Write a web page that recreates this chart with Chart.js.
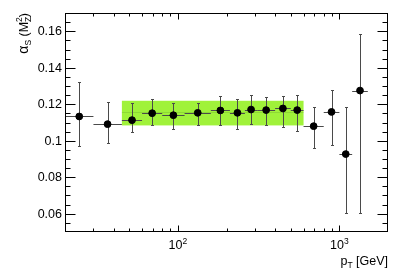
<!DOCTYPE html>
<html>
  <head>
    <title>alpha_s vs pT</title>
    <script src="https://cdn.jsdelivr.net/npm/chart.js"></script>
    <style>
      body {
        margin: 0;
        background-color: #ffffff;
      }
      #wrap {
        width: 409px;
        height: 277px;
      }
    </style>
  </head>
  <body>
    <div id="wrap">
      <canvas id="chart" width="409" height="277"></canvas>
    </div>

    <script>
      // bins in pT [GeV]
      const binLow = [20, 30, 45, 60, 80, 110, 160, 210, 260, 310, 400, 500, 600, 800, 1000, 1200];
      const binHigh = [30, 45, 60, 80, 110, 160, 210, 260, 310, 400, 500, 600, 800, 1000, 1200, 1500];
      const binCenter = [24.5, 36.7, 52, 69.3, 93.8, 132.7, 183.3, 233.7, 283.9, 352, 447, 548, 693, 894, 1095, 1342];

      // alpha_s(M_Z^2) and total uncertainty (upper / lower values)
      const alphaS = [0.1133, 0.1091, 0.1113, 0.1151, 0.114, 0.1153, 0.1166, 0.1153, 0.1171, 0.1168, 0.1177, 0.1168, 0.108, 0.1158, 0.0927, 0.1275];
      const alphaUp = [0.1321, 0.1215, 0.1206, 0.123, 0.1206, 0.1209, 0.1246, 0.1228, 0.1251, 0.1239, 0.1246, 0.1251, 0.1184, 0.1277, 0.1184, 0.1585];
      const alphaDown = [0.0972, 0.0989, 0.1049, 0.1086, 0.1067, 0.1086, 0.1089, 0.1062, 0.1094, 0.1084, 0.1073, 0.1056, 0.096, 0.0974, 0.0604, 0.0602];

      // combined fit band
      const bandRange = [45, 600];
      const bandValue = 0.1157;
      const bandLow = 0.1084;
      const bandHigh = 0.1219;

      // axes
      const yTicks = [0.06, 0.08, 0.1, 0.12, 0.14, 0.16];
      const yTickLabels = ["0.06", "0.08", "0.1", "0.12", "0.14", "0.16"];
      const yMinorTicks = [0.055, 0.065, 0.07, 0.075, 0.085, 0.09, 0.095, 0.105, 0.11, 0.115, 0.125, 0.13, 0.135, 0.145, 0.15, 0.155, 0.165];
      const xTicks = [100, 1000];
      const xTickBase = ["10", "10"];
      const xTickExp = ["2", "3"];
      const xMinorTicks = [20, 30, 40, 50, 60, 70, 80, 90, 200, 300, 400, 500, 600, 700, 800, 900, 2000];

      const FONT = "'Liberation Sans', Arial, sans-serif";

      const points = binCenter.map((x, i) => ({ x: x, y: alphaS[i] }));

      const rootStyle = {
        id: "rootStyle",
        beforeDatasetsDraw(chart) {
          const ctx = chart.ctx;
          const xs = chart.scales.x;
          const ys = chart.scales.y;

          // green band
          const bx0 = xs.getPixelForValue(bandRange[0]);
          const bx1 = xs.getPixelForValue(bandRange[1]);
          const by0 = ys.getPixelForValue(bandHigh);
          const by1 = ys.getPixelForValue(bandLow);
          ctx.save();
          ctx.fillStyle = "#a0f23a";
          ctx.fillRect(bx0, by0, bx1 - bx0, by1 - by0);
          const bc = Math.round(ys.getPixelForValue(bandValue)) + 0.5;
          ctx.strokeStyle = "rgba(110,170,50,0.35)";
          ctx.lineWidth = 1;
          ctx.beginPath();
          ctx.moveTo(bx0, bc);
          ctx.lineTo(bx1, bc);
          ctx.stroke();

          // error bars
          ctx.strokeStyle = "#4a4a4a";
          ctx.lineWidth = 1;
          for (let i = 0; i < binCenter.length; i++) {
            const px = Math.round(xs.getPixelForValue(binCenter[i])) + 0.5;
            const py = Math.round(ys.getPixelForValue(alphaS[i])) + 0.5;
            const x0 = Math.max(xs.getPixelForValue(binLow[i]), chart.chartArea.left);
            const x1 = xs.getPixelForValue(binHigh[i]);
            const yUp = Math.round(ys.getPixelForValue(alphaUp[i])) + 0.5;
            const yDn = Math.round(ys.getPixelForValue(alphaDown[i])) + 0.5;
            ctx.beginPath();
            ctx.moveTo(x0, py);
            ctx.lineTo(x1, py);
            ctx.moveTo(px, yUp);
            ctx.lineTo(px, yDn);
            // little caps
            ctx.moveTo(px - 1.5, yUp);
            ctx.lineTo(px + 1.5, yUp);
            ctx.moveTo(px - 1.5, yDn);
            ctx.lineTo(px + 1.5, yDn);
            ctx.stroke();
          }
          ctx.restore();
        },
        afterDraw(chart) {
          const ctx = chart.ctx;
          const xs = chart.scales.x;
          const ys = chart.scales.y;
          const a = chart.chartArea;
          const L = Math.round(a.left) + 0.5;
          const R = Math.round(a.right) - 0.5;
          const T = Math.round(a.top) + 0.5;
          const B = Math.round(a.bottom) - 0.5;

          ctx.save();
          ctx.strokeStyle = "#000000";
          ctx.lineWidth = 1;
          ctx.strokeRect(L, T, R - L, B - T);

          ctx.beginPath();
          // y ticks, left and right
          yTicks.forEach((v) => {
            const y = Math.round(ys.getPixelForValue(v)) + 0.5;
            ctx.moveTo(L, y);
            ctx.lineTo(L + 10, y);
            ctx.moveTo(R, y);
            ctx.lineTo(R - 10, y);
          });
          yMinorTicks.forEach((v) => {
            const y = Math.round(ys.getPixelForValue(v)) + 0.5;
            ctx.moveTo(L, y);
            ctx.lineTo(L + 5, y);
            ctx.moveTo(R, y);
            ctx.lineTo(R - 5, y);
          });
          // x ticks, bottom and top
          xTicks.forEach((v) => {
            const x = Math.round(xs.getPixelForValue(v)) + 0.5;
            ctx.moveTo(x, B);
            ctx.lineTo(x, B - 6);
            ctx.moveTo(x, T);
            ctx.lineTo(x, T + 6);
          });
          xMinorTicks.forEach((v) => {
            if (v <= xs.min || v >= xs.max) return;
            const x = Math.round(xs.getPixelForValue(v)) + 0.5;
            ctx.moveTo(x, B);
            ctx.lineTo(x, B - 3);
            ctx.moveTo(x, T);
            ctx.lineTo(x, T + 3);
          });
          ctx.stroke();

          // y tick labels
          ctx.fillStyle = "#000000";
          ctx.font = "12.5px " + FONT;
          ctx.textAlign = "right";
          ctx.textBaseline = "middle";
          yTicks.forEach((v, i) => {
            ctx.fillText(yTickLabels[i], a.left - 3, ys.getPixelForValue(v) + 0.5);
          });

          // x tick labels 10^n
          ctx.textBaseline = "alphabetic";
          ctx.textAlign = "left";
          xTicks.forEach((v, i) => {
            ctx.font = "12.5px " + FONT;
            const wb = ctx.measureText(xTickBase[i]).width;
            ctx.font = "8.5px " + FONT;
            const we = ctx.measureText(xTickExp[i]).width;
            const x0 = xs.getPixelForValue(v) - (wb + we) / 2;
            ctx.font = "12.5px " + FONT;
            ctx.fillText(xTickBase[i], x0, 249);
            ctx.font = "8.5px " + FONT;
            ctx.fillText(xTickExp[i], x0 + wb, 244);
          });

          // x title p_T [GeV], right aligned
          ctx.font = "12.5px " + FONT;
          const wp = ctx.measureText("p").width;
          const wg = ctx.measureText(" [GeV]").width;
          ctx.font = "8.5px " + FONT;
          const wt = ctx.measureText("T").width;
          let xx = a.right - (wp + wt + wg);
          ctx.font = "12.5px " + FONT;
          ctx.fillText("p", xx, 265);
          ctx.font = "8.5px " + FONT;
          ctx.fillText("T", xx + wp, 268);
          ctx.font = "12.5px " + FONT;
          ctx.fillText(" [GeV]", xx + wp + wt, 265);

          // y title alpha_S(M_Z^2), rotated, right aligned at top
          const parts = [
            ["\u03b1", 14, 0],
            ["S", 8.5, 3],
            [" (M", 12.5, 0],
            ["Z", 8.5, 3, true],
            ["2", 8.5, -6],
            [")", 12.5, 0],
          ];
          let total = 0;
          const widths = parts.map((p) => {
            ctx.font = p[1] + "px " + FONT;
            const w = ctx.measureText(p[0]).width;
            if (!p[3]) total += w;
            return w;
          });
          ctx.translate(28, a.top + total);
          ctx.rotate(-Math.PI / 2);
          let cx = 0;
          parts.forEach((p, i) => {
            ctx.font = p[1] + "px " + FONT;
            ctx.fillText(p[0], cx, p[2]);
            if (!p[3]) cx += widths[i];
          });
          ctx.restore();
        },
      };

      new Chart(document.getElementById("chart"), {
        type: "scatter",
        data: {
          datasets: [
            {
              label: "alpha_s",
              data: points,
              backgroundColor: "#000000",
              borderColor: "#000000",
              pointRadius: 3.4,
              pointHoverRadius: 3.4,
            },
          ],
        },
        options: {
          responsive: false,
          animation: false,
          devicePixelRatio: 1,
          layout: {
            padding: { left: 65, top: 13, right: 21, bottom: 45 },
          },
          plugins: {
            legend: { display: false },
            tooltip: { enabled: false },
          },
          scales: {
            x: { type: "logarithmic", min: 20, max: 2000, display: false },
            y: { type: "linear", min: 0.05, max: 0.17, display: false },
          },
        },
        plugins: [rootStyle],
      });
    </script>
  </body>
</html>
